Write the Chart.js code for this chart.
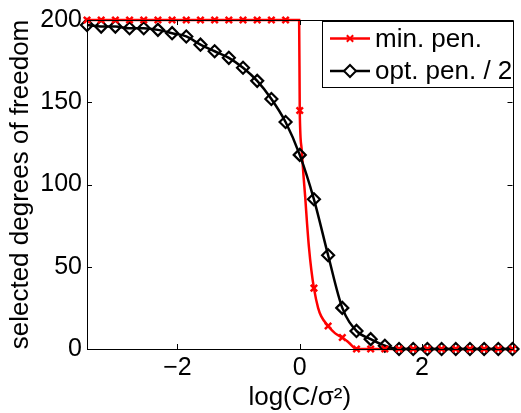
<!DOCTYPE html>
<html><head><meta charset="utf-8">
<script src="https://cdn.jsdelivr.net/npm/chart.js@4/dist/chart.umd.min.js"></script>
<style>html,body{margin:0;padding:0;background:#fff}#wrap{width:521px;height:413px;position:relative}</style>
</head><body><div id="wrap"><canvas id="c" width="521" height="413"></canvas></div>
<script>
// ---- data ----
const xGrid = [-3.48, -3.248, -3.016, -2.784, -2.552, -2.32, -2.088, -1.856, -1.624, -1.392, -1.16, -0.928, -0.696, -0.464, -0.232, 0, 0.232, 0.464, 0.696, 0.928, 1.16, 1.392, 1.624, 1.856, 2.088, 2.32, 2.552, 2.784, 3.016, 3.248, 3.48];
const minPen = [200, 200, 200, 200, 200, 200, 200, 200, 200, 200, 200, 200, 200, 200, 200, 145, 37, 14, 7, 0, 0, 0, 0, 0, 0, 0, 0, 0, 0, 0, 0];
const optPenHalf = [197, 196, 196, 195, 195, 194, 192, 190, 185, 181, 177, 171, 163, 152, 138, 118, 91, 57, 25, 11, 6, 2, 0, 0, 0, 0, 0, 0, 0, 0, 0];
const minPenCurveX = [-3.48, -0.232, -0.01, 0, 0.03, 0.06, 0.09, 0.12, 0.15, 0.19, 0.232, 0.3, 0.35, 0.464, 0.58, 0.696, 0.8, 0.928, 3.48];
const minPenCurveY = [200, 200, 200, 145, 122, 106, 92, 76, 62, 48, 37, 25, 20, 14, 9.5, 7, 4, 0, 0];
const xTickValues = [-2, 0, 2];
const yTickValues = [0, 50, 100, 150, 200];
const seriesLabels = ['min. pen.', 'opt. pen. / 2'];
const xTitle = 'log(C/σ²)';
const yTitle = 'selected degrees of freedom';

const FONT = "'Liberation Sans', Arial, Helvetica, sans-serif";
const RED = '#ff0000', BLACK = '#000000';

const toPts = (xs, ys) => xs.map((x, i) => ({x: x, y: ys[i]}));

const boxTicks = {
  id: 'boxTicks',
  afterDatasetsDraw(chart) {
    const {ctx, chartArea: a, scales: {x, y}} = chart;
    ctx.save();
    ctx.strokeStyle = '#000';
    ctx.lineWidth = 1;
    ctx.beginPath();
    ctx.rect(Math.round(a.left) + 0.5, Math.round(a.top) + 0.5, Math.round(a.right - a.left), Math.round(a.bottom - a.top));
    ctx.stroke();
    const L = 5;
    ctx.beginPath();
    xTickValues.forEach(v => {
      const px = Math.round(x.getPixelForValue(v)) + 0.5;
      ctx.moveTo(px, a.bottom); ctx.lineTo(px, a.bottom - L);
      ctx.moveTo(px, a.top); ctx.lineTo(px, a.top + L);
    });
    yTickValues.forEach(v => {
      const py = Math.round(y.getPixelForValue(v)) + 0.5;
      ctx.moveTo(a.left, py); ctx.lineTo(a.left + L, py);
      ctx.moveTo(a.right, py); ctx.lineTo(a.right - L, py);
    });
    ctx.stroke();
    ctx.restore();
  }
};

const boxLegend = {
  id: 'boxLegend',
  afterDraw(chart) {
    const ctx = chart.ctx;
    const bx = 322, by = 21, bw = 191, bh = 66;
    ctx.save();
    ctx.fillStyle = '#fff';
    ctx.fillRect(bx, by, bw, bh);
    ctx.strokeStyle = '#000';
    ctx.lineWidth = 1;
    ctx.strokeRect(bx + 0.5, by + 0.5, bw, bh);
    const styles = [
      {color: RED, pointStyle: 'crossRot', radius: 4.5, lw: 2.5},
      {color: BLACK, pointStyle: 'rectRot', radius: 6, lw: 2.5}
    ];
    seriesLabels.forEach((lab, i) => {
      const s = styles[i];
      const yy = by + 17.5 + i * 32.5;
      ctx.strokeStyle = s.color;
      ctx.lineWidth = s.lw;
      ctx.beginPath();
      ctx.moveTo(bx + 8, yy); ctx.lineTo(bx + 48, yy);
      ctx.stroke();
      ctx.fillStyle = '#fff';
      ctx.lineWidth = 2;
      Chart.helpers.drawPoint(ctx, {pointStyle: s.pointStyle, radius: s.radius, borderWidth: 2, rotation: 0}, bx + 28, yy);
      ctx.fillStyle = '#000';
      ctx.font = '26px ' + FONT;
      ctx.textBaseline = 'middle';
      ctx.textAlign = 'left';
      ctx.fillText(lab, bx + 53, yy + 1);
    });
    ctx.restore();
  }
};

new Chart(document.getElementById('c'), {
  type: 'scatter',
  data: {
    datasets: [
      {
        label: seriesLabels[0] + ' curve',
        data: toPts(minPenCurveX, minPenCurveY),
        showLine: true, borderColor: RED, borderWidth: 2.5,
        pointRadius: 0, cubicInterpolationMode: 'monotone',
        clip: false, order: 3
      },
      {
        label: seriesLabels[1],
        data: toPts(xGrid, optPenHalf),
        showLine: true, borderColor: BLACK, borderWidth: 2.5,
        cubicInterpolationMode: 'monotone',
        pointStyle: 'rectRot', pointRadius: 6, pointBorderWidth: 2.2,
        pointBorderColor: BLACK, pointBackgroundColor: 'rgba(255,255,255,0)',
        clip: false, order: 2
      },
      {
        label: seriesLabels[0],
        data: toPts(xGrid, minPen),
        showLine: false,
        pointStyle: 'crossRot', pointRadius: 4.5, pointBorderWidth: 2.5,
        pointBorderColor: RED, pointBackgroundColor: RED,
        clip: false, order: 1
      }
    ]
  },
  options: {
    responsive: false,
    animation: false,
    devicePixelRatio: 1,
    layout: {padding: {top: 15, right: 2, left: 0, bottom: 0}},
    plugins: {legend: {display: false}, tooltip: {enabled: false}},
    elements: {point: {hoverRadius: 6}},
    scales: {
      x: {
        type: 'linear', min: -3.48, max: 3.48,
        afterBuildTicks: s => { s.ticks = xTickValues.map(v => ({value: v})); },
        afterFit: s => { s.height = 64; },
        grid: {display: false, drawTicks: false},
        border: {display: false},
        ticks: {
          color: '#000', padding: 4, maxRotation: 0,
          font: {family: FONT, size: 25},
          callback: v => String(v).replace('-', '\u2212')
        },
        title: {display: true, text: xTitle, color: '#000', font: {family: FONT, size: 26}, padding: {top: 0, bottom: 0}}
      },
      y: {
        type: 'linear', min: 0, max: 200,
        afterBuildTicks: s => { s.ticks = yTickValues.map(v => ({value: v})); },
        afterFit: s => { s.width = 87; },
        grid: {display: false, drawTicks: false},
        border: {display: false},
        ticks: {
          color: '#000', padding: 5,
          font: {family: FONT, size: 25},
          callback: v => String(v)
        },
        title: {display: true, text: yTitle, color: '#000', font: {family: FONT, size: 26}, padding: {top: 5, bottom: 0}}
      }
    }
  },
  plugins: [boxTicks, boxLegend]
});
</script>
</body></html>
